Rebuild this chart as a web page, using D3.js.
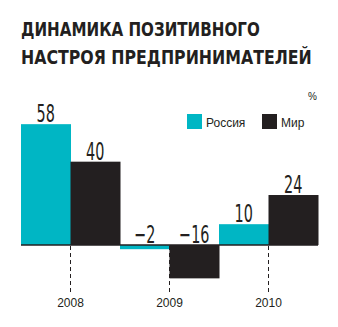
<!DOCTYPE html>
<html>
<head>
<meta charset="utf-8">
<script src="https://cdn.jsdelivr.net/npm/d3@7/dist/d3.min.js"></script>
<style>
  html, body { margin: 0; padding: 0; background: #fff; }
  svg { display: block; }
</style>
</head>
<body>
<svg id="chart" width="338" height="327"></svg>
<script>
// Yearly share of positive business sentiment, %
const years = ["2008", "2009", "2010"];
const seriesNames = ["Россия", "Мир"];
const russia = [58, -2, 10];
const world = [40, -16, 24];
const titleLines = ["ДИНАМИКА ПОЗИТИВНОГО", "НАСТРОЯ ПРЕДПРИНИМАТЕЛЕЙ"];
const unitLabel = "%";

const colors = { "Россия": "#00b6c4", "Мир": "#231f20" };
const ink = "#231f20";

const svg = d3.select("#chart");

// Title: condensed bold, each line squeezed horizontally to its set width
const titleWidths = [239, 291];
svg.selectAll("text.title")
  .data(titleLines)
  .join("text")
  .attr("class", "title")
  .style("font-family", "'DejaVu Sans Condensed', 'DejaVu Sans', sans-serif")
  .style("font-weight", "bold")
  .style("font-size", "19.5px")
  .style("fill", ink)
  .text(d => d)
  .attr("transform", function (d, i) {
    const w = this.getComputedTextLength();
    return `translate(21,${36 + i * 28}) scale(${titleWidths[i] / w},1)`;
  });

// Scales
const x = d3.scaleBand().domain(years).range([21, 318]).padding(0);
const xs = d3.scaleBand().domain(seriesNames).range([0, x.bandwidth()]).padding(0);
const y = d3.scaleLinear().domain([-20, 60]).range([286.7, 120]);

const rows = years.map((yr, i) => ({
  year: yr,
  values: [
    { name: "Россия", value: russia[i] },
    { name: "Мир", value: world[i] }
  ]
}));

const groups = svg.selectAll("g.year")
  .data(rows)
  .join("g")
  .attr("class", "year")
  .attr("transform", d => `translate(${x(d.year)},0)`);

groups.selectAll("rect")
  .data(d => d.values)
  .join("rect")
  .attr("x", d => xs(d.name))
  .attr("width", xs.bandwidth() + 0.5)
  .attr("y", d => y(Math.max(0, d.value)))
  .attr("height", d => Math.abs(y(d.value) - y(0)))
  .attr("fill", d => colors[d.name]);

// Value labels: above the bar for positive, above the baseline for negative
const fmt = d3.format("d");
groups.selectAll("text.val")
  .data(d => d.values)
  .join("text")
  .attr("class", "val")
  .attr("transform", d => {
    const cx = xs(d.name) + xs.bandwidth() / 2;
    const by = (d.value >= 0 ? y(d.value) : y(0)) - 2;
    return `translate(${cx},${by}) scale(0.64,1)`;
  })
  .attr("text-anchor", "middle")
  .style("font-family", "'DejaVu Sans Condensed', 'DejaVu Sans', sans-serif")
  .style("font-size", "25px")
  .style("fill", ink)
  .text(d => fmt(d.value));

// Baseline
svg.append("line")
  .attr("x1", 21).attr("x2", 318)
  .attr("y1", y(0)).attr("y2", y(0))
  .attr("stroke", ink)
  .attr("stroke-width", 1.5);

// Year axis with dashed tick lines
const axis = svg.append("g")
  .attr("transform", `translate(0,${y(0) + 1})`)
  .call(d3.axisBottom(x).tickSize(47).tickPadding(5));
axis.select(".domain").remove();
axis.selectAll(".tick line")
  .attr("stroke", ink)
  .attr("stroke-width", 1)
  .attr("stroke-dasharray", "4,3");
axis.selectAll(".tick text")
  .style("font-family", "'Liberation Sans', Arial, sans-serif")
  .style("font-size", "12px")
  .style("fill", ink);

// Legend
const legend = svg.append("g").attr("class", "legend");
const legendX = [187, 262];
seriesNames.forEach((name, i) => {
  legend.append("rect")
    .attr("x", legendX[i]).attr("y", 114)
    .attr("width", 15).attr("height", 15)
    .attr("fill", colors[name]);
  legend.append("text")
    .attr("x", legendX[i] + 19).attr("y", 127)
    .style("font-family", "'Liberation Sans', Arial, sans-serif")
    .style("font-size", "12px")
    .style("fill", ink)
    .text(name);
});

svg.append("text")
  .attr("x", 317).attr("y", 100)
  .attr("text-anchor", "end")
  .style("font-family", "'Liberation Sans', Arial, sans-serif")
  .style("font-size", "10px")
  .style("fill", ink)
  .text(unitLabel);
</script>
</body>
</html>
